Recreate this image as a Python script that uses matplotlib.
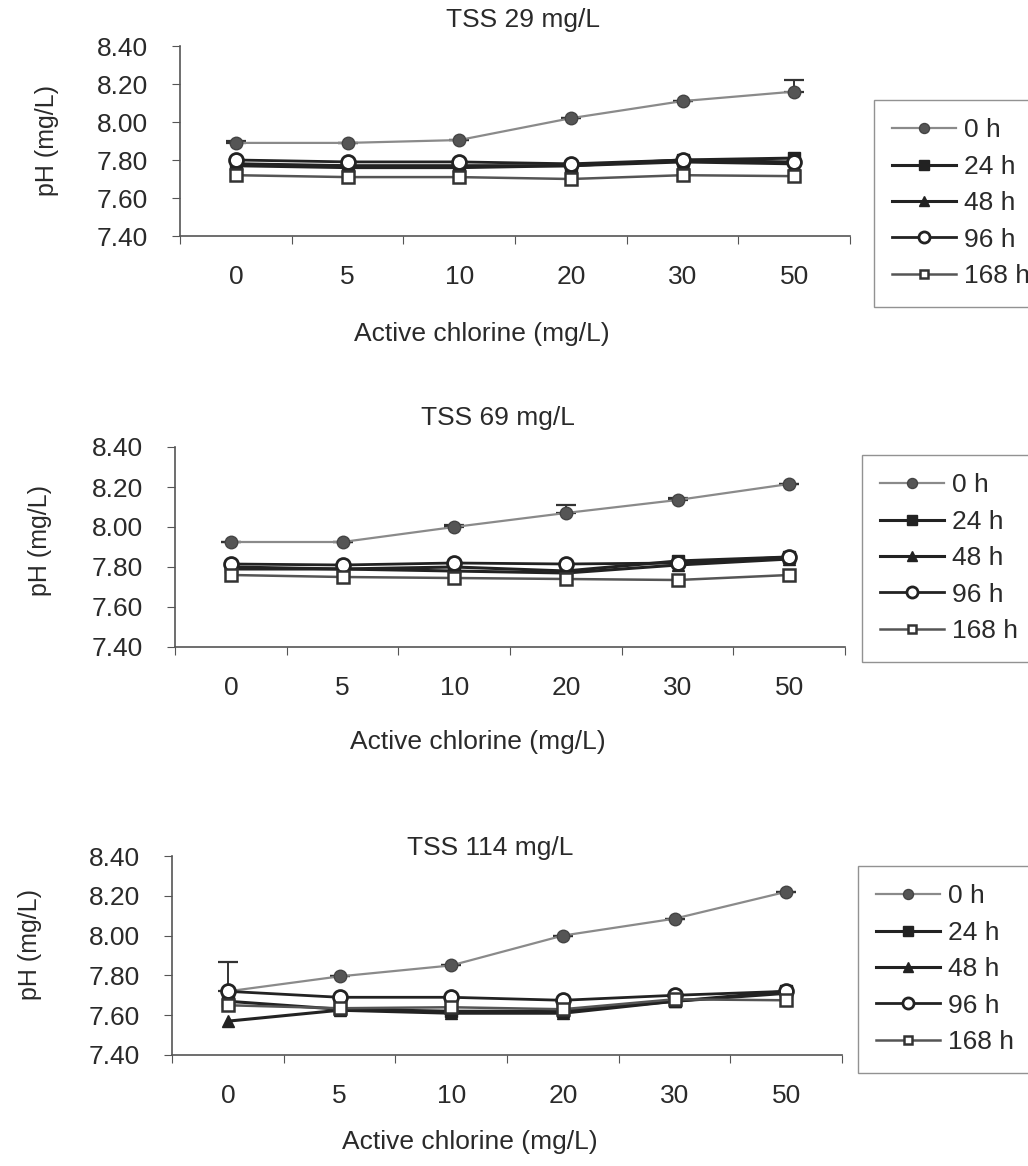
import matplotlib
matplotlib.use("Agg")
import matplotlib.pyplot as plt
from matplotlib.ticker import FixedLocator, NullFormatter, FixedFormatter

plt.rcParams['font.family'] = ['Liberation Sans', 'DejaVu Sans']

# chlorine doses (categorical axis)
doses = ["0", "5", "10", "20", "30", "50"]
times = ["0 h", "24 h", "48 h", "96 h", "168 h"]

# pH values, one list per sampling time
tss29 = {
    "0 h":   [7.89, 7.89, 7.905, 8.02, 8.11, 8.16],
    "24 h":  [7.78, 7.77, 7.77, 7.77, 7.80, 7.81],
    "48 h":  [7.77, 7.76, 7.76, 7.77, 7.79, 7.78],
    "96 h":  [7.80, 7.79, 7.79, 7.78, 7.80, 7.79],
    "168 h": [7.72, 7.71, 7.71, 7.70, 7.72, 7.715],
}
tss69 = {
    "0 h":   [7.925, 7.925, 8.00, 8.07, 8.135, 8.215],
    "24 h":  [7.80, 7.79, 7.80, 7.78, 7.83, 7.85],
    "48 h":  [7.79, 7.79, 7.78, 7.77, 7.81, 7.84],
    "96 h":  [7.815, 7.81, 7.82, 7.815, 7.82, 7.85],
    "168 h": [7.76, 7.75, 7.745, 7.74, 7.735, 7.76],
}
tss114 = {
    "0 h":   [7.72, 7.795, 7.85, 8.00, 8.085, 8.22],
    "24 h":  [7.67, 7.63, 7.62, 7.62, 7.67, 7.72],
    "48 h":  [7.57, 7.625, 7.61, 7.61, 7.67, 7.71],
    "96 h":  [7.72, 7.69, 7.69, 7.675, 7.70, 7.72],
    "168 h": [7.65, 7.635, 7.64, 7.63, 7.68, 7.675],
}
# upper error bars on the 0 h series only
err29 = [0.01, 0.0, 0.0, 0.0, 0.0, 0.06]
err69 = [0.0, 0.0, 0.01, 0.04, 0.01, 0.0]
err114 = [0.145, 0.0, 0.0, 0.0, 0.0, 0.0]

yticks = [7.40, 7.60, 7.80, 8.00, 8.20, 8.40]

styles = {
    "0 h":   dict(marker="o", color="#8a8a8a", mfc="#555555", mec="#444444", ms=9, lw=1.6),
    "24 h":  dict(marker="s", color="#222222", mfc="#222222", mec="#222222", ms=9, lw=2.2),
    "48 h":  dict(marker="^", color="#222222", mfc="#222222", mec="#222222", ms=9, lw=2.2),
    "96 h":  dict(marker="o", color="#222222", mfc="white", mec="#222222", ms=10, lw=2.0, mew=2),
    "168 h": dict(marker="s", color="#555555", mfc="white", mec="#333333", ms=8, lw=1.8, mew=1.8),
}

txt = "#2a2a2a"
fs = 19
fig = plt.figure(figsize=(10.28, 11.66), dpi=100)

panels = [
    # data, err, title, axes rect (px), title pos, xlabel pos, ylabel pos, legend corner
    (tss29, err29, "TSS 29 mg/L", [180, 46, 670, 190], (523, 20), (482, 334), (47, 140), (874, 100)),
    (tss69, err69, "TSS 69 mg/L", [175, 447, 670, 200], (498, 418), (478, 742), (40, 540), (862, 455)),
    (tss114, err114, "TSS 114 mg/L", [172, 856, 670, 199], (490, 848), (470, 1142), (30, 945), (858, 866)),
]

W, H = 1028, 1166
x = list(range(len(doses)))

for data, err, title, rect, tpos, xlpos, ylpos, lpos in panels:
    l, t, w, h = rect
    ax = fig.add_axes([l / W, 1 - (t + h) / H, w / W, h / H])
    for name in times:
        ax.plot(x, data[name], label=name, zorder=3 if name != "0 h" else 2, **styles[name])
    ax.errorbar(x, data["0 h"], yerr=[[0] * 6, err], fmt="none",
                ecolor="#333333", elinewidth=1.4, capsize=7, capthick=1.6, zorder=1)

    ax.set_xlim(-0.5, 5.5)
    ax.set_ylim(7.40, 8.40)
    for s in ["top", "right"]:
        ax.spines[s].set_visible(False)
    for s in ["left", "bottom"]:
        ax.spines[s].set_color("#555555")
        ax.spines[s].set_linewidth(1.2)

    ax.set_yticks(yticks)
    ax.set_yticklabels([f"{v:.2f}" for v in yticks])
    ax.tick_params(axis="y", direction="out", length=6, pad=17, labelsize=fs,
                   labelcolor=txt, color="#555555")
    ax.xaxis.set_major_locator(FixedLocator([i - 0.5 for i in range(7)]))
    ax.xaxis.set_major_formatter(NullFormatter())
    ax.xaxis.set_minor_locator(FixedLocator(x))
    ax.xaxis.set_minor_formatter(FixedFormatter(doses))
    ax.tick_params(axis="x", which="major", direction="out", length=6, color="#555555")
    ax.tick_params(axis="x", which="minor", length=0, pad=21, labelsize=fs, labelcolor=txt)

    fig.text(tpos[0] / W, 1 - tpos[1] / H, title, ha="center", va="center",
             fontsize=fs, color=txt)
    fig.text(xlpos[0] / W, 1 - xlpos[1] / H, "Active chlorine (mg/L)", ha="center",
             va="center", fontsize=fs, color=txt)
    fig.text(ylpos[0] / W, 1 - ylpos[1] / H, "pH (mg/L)", ha="center", va="center",
             rotation=90, fontsize=18, color=txt)

    leg = ax.legend(loc="upper left", bbox_to_anchor=(lpos[0] / W, 1 - lpos[1] / H),
                    bbox_transform=fig.transFigure, borderaxespad=0, fontsize=fs,
                    frameon=True, fancybox=False, edgecolor="#777777",
                    handlelength=2.4, labelspacing=0.47, borderpad=0.7,
                    handletextpad=0.3, markerscale=0.8, labelcolor=txt)
    leg.get_frame().set_linewidth(1.0)

fig.savefig("out.png", dpi=100, facecolor="white")
